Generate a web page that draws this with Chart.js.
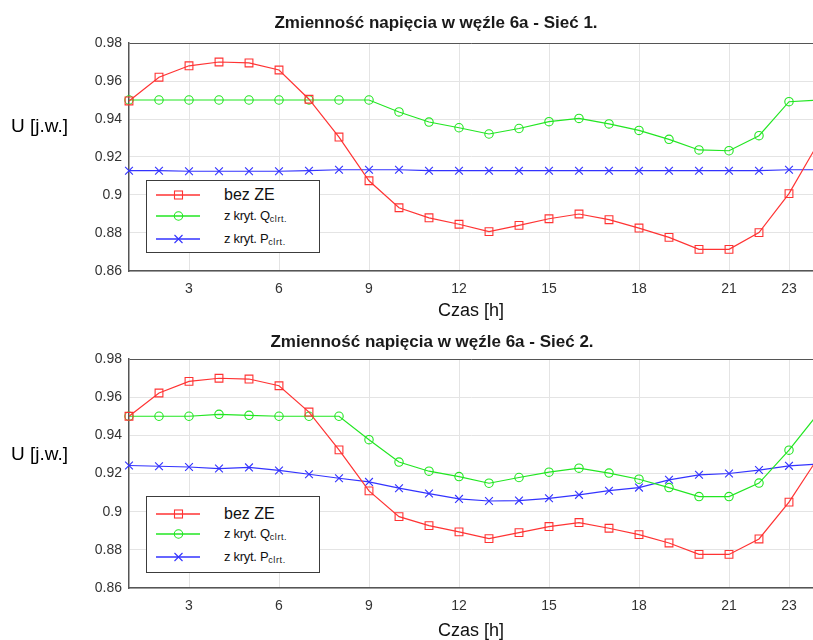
<!DOCTYPE html>
<html>
<head>
<meta charset="utf-8">
<script src="https://cdn.jsdelivr.net/npm/chart.js@4.4.1/dist/chart.umd.min.js"></script>
<style>
  html, body { margin: 0; padding: 0; background: #fff; }
  body { width: 813px; height: 640px; overflow: hidden; position: relative;
         font-family: Arial, "Liberation Sans", sans-serif; color: #000; }
  .panel { position: absolute; left: 0; width: 813px; height: 320px; }
  .panel canvas { position: absolute; left: 0; top: 0; }
  .title { position: absolute; left: 0; font-weight: bold; font-size: 17px; line-height: 17px;
           text-align: center; color: #1a1a1a; white-space: nowrap; }
  .ylab { position: absolute; left: 11px; font-size: 19px; line-height: 19px; color: #000; white-space: nowrap; }
  .legend { position: absolute; left: 146px; width: 172px; border: 1px solid #3c3c3c;
            background: #fff; box-sizing: content-box; }
  .legend .row { position: absolute; left: 0; height: 16px; width: 172px; }
  .legend svg { position: absolute; left: 0; top: 0; }
  .legend .lbl { position: absolute; left: 77px; top: 0; line-height: 16px; white-space: nowrap; color: #111; }
  .legend .big { font-size: 16px; }
  .legend .small { font-size: 13px; letter-spacing: -0.3px; }
  .legend sub { font-size: 9px; letter-spacing: 0.6px; vertical-align: -2px; line-height: 0; }
</style>
</head>
<body>
<div class="panel" id="p1" style="top:0px">
  <canvas id="c1" width="813" height="320"></canvas>
</div>
<div class="panel" id="p2" style="top:320px">
  <canvas id="c2" width="813" height="320"></canvas>
</div>

<script>
// ---------------- DATA ----------------
const hours = [1,2,3,4,5,6,7,8,9,10,11,12,13,14,15,16,17,18,19,20,21,22,23,24];
const xTickValues = [3,6,9,12,15,18,21,23];
const yTickValues = [0.86,0.88,0.90,0.92,0.94,0.96,0.98];
const yTickLabels = ['0.86','0.88','0.9','0.92','0.94','0.96','0.98'];

const titles = ['Zmienność napięcia w węźle 6a - Sieć 1.', 'Zmienność napięcia w węźle 6a - Sieć 2.'];
const xAxisTitle = 'Czas [h]';
const yAxisTitle = 'U [j.w.]';
const seriesNames = ['bez ZE', 'z kryt. Q', 'z kryt. P'];
const seriesSubs = ['', 'clrt.', 'clrt.'];

// Sieć 1
const s1BezZE = [0.9495,0.962,0.968,0.970,0.9695,0.9658,0.9504,0.9305,0.9075,0.8933,0.888,0.8846,
                 0.8807,0.884,0.8875,0.890,0.887,0.8826,0.8777,0.8714,0.8714,0.8802,0.9007,0.928];
const s1Q     = [0.950,0.950,0.950,0.950,0.950,0.950,0.950,0.950,0.950,0.9437,0.9384,0.9354,
                 0.9321,0.935,0.9386,0.9403,0.9374,0.934,0.9293,0.9237,0.9233,0.9312,0.9491,0.950];
const s1P     = [0.9128,0.9128,0.9125,0.9125,0.9125,0.9125,0.9128,0.9133,0.9133,0.9133,0.9128,0.9128,
                 0.9128,0.9128,0.9128,0.9128,0.9128,0.9128,0.9128,0.9128,0.9128,0.9128,0.9133,0.9133];

// Sieć 2
const s2BezZE = [0.950,0.9622,0.9683,0.9699,0.9695,0.966,0.9522,0.9324,0.9109,0.8974,0.8927,0.8894,
                 0.8859,0.889,0.8922,0.8943,0.8913,0.888,0.8836,0.8776,0.8776,0.8857,0.905,0.929];
const s2Q     = [0.950,0.950,0.950,0.951,0.9505,0.950,0.950,0.950,0.9377,0.926,0.9212,0.9184,
                 0.9149,0.9179,0.9207,0.9228,0.9202,0.917,0.9126,0.9079,0.9079,0.915,0.9322,0.952];
const s2P     = [0.9242,0.9238,0.9234,0.9226,0.9232,0.9216,0.9196,0.9175,0.9156,0.9123,0.9095,0.9067,
                 0.9056,0.9058,0.907,0.9088,0.911,0.9126,0.9167,0.9193,0.920,0.9218,0.924,0.925];

// ---------------- STYLE ----------------
const colors = ['#ff3333', '#22e622', '#3333ff'];
const pointStyles = ['rect', 'circle', 'crossRot'];
const pointRadii = [5.5, 4.2, 5.5];

Chart.defaults.font.family = 'Arial, "Liberation Sans", sans-serif';

function makeDatasets(series) {
  return series.map((vals, i) => ({
    label: seriesNames[i] + seriesSubs[i],
    data: hours.map((h, k) => ({ x: h, y: vals[k] })),
    borderColor: colors[i],
    backgroundColor: colors[i],
    borderWidth: 1.2,
    pointStyle: pointStyles[i],
    pointRadius: pointRadii[i],
    pointHoverRadius: pointRadii[i],
    pointBorderWidth: 1.1,
    pointBorderColor: colors[i],
    pointBackgroundColor: 'rgba(0,0,0,0)',
    tension: 0,
    clip: false
  }));
}

function makeChart(canvasId, series, padTop, xScaleHeight) {
  const ctx = document.getElementById(canvasId);
  return new Chart(ctx, {
    type: 'line',
    data: { datasets: makeDatasets(series) },
    options: {
      responsive: false,
      animation: false,
      devicePixelRatio: 1,
      layout: { autoPadding: false, padding: { top: padTop, left: 0, right: 0, bottom: 0 } },
      plugins: { legend: { display: false }, title: { display: false }, tooltip: { enabled: false } },
      scales: {
        x: {
          type: 'linear',
          min: 1,
          max: 23.8,
          afterBuildTicks: (scale) => { scale.ticks = xTickValues.map(v => ({ value: v })); },
          afterFit: (scale) => { scale.height = xScaleHeight; },
          ticks: { autoSkip: false, maxRotation: 0, padding: 10, color: '#333',
                   font: { size: 14 }, callback: (v) => String(v) },
          grid: { color: '#e4e4e4', lineWidth: 1, drawTicks: false },
          border: { color: '#555', width: 1.5 },
          title: { display: true, text: xAxisTitle, color: '#111',
                   font: { size: 18, lineHeight: 1 }, padding: { top: 0, bottom: 0 } }
        },
        y: {
          min: 0.86,
          max: 0.98,
          afterBuildTicks: (scale) => { scale.ticks = yTickValues.map(v => ({ value: v })); },
          afterFit: (scale) => { scale.width = 129; },
          ticks: { padding: 7, color: '#333', font: { size: 14 },
                   callback: (v) => {
                     const idx = yTickValues.findIndex(t => Math.abs(t - v) < 1e-6);
                     return idx >= 0 ? yTickLabels[idx] : '';
                   } },
          grid: { drawTicks: false, lineWidth: 1,
                  color: (c) => (c.tick && Math.abs(c.tick.value - 0.98) < 1e-6) ? '#555' : '#e4e4e4' },
          border: { color: '#555', width: 1.5 }
        }
      }
    }
  });
}

function addTexts(panelId, titleText, titleTop, titleCenter, ylabTop, legendTop, legendHeight, rowCenters) {
  const p = document.getElementById(panelId);
  const t = document.createElement('div');
  t.className = 'title';
  t.style.top = titleTop + 'px';
  t.style.width = (titleCenter * 2) + 'px';
  t.textContent = titleText;
  p.appendChild(t);

  const yl = document.createElement('div');
  yl.className = 'ylab';
  yl.style.top = ylabTop + 'px';
  yl.textContent = yAxisTitle;
  p.appendChild(yl);

  const lg = document.createElement('div');
  lg.className = 'legend';
  lg.style.top = legendTop + 'px';
  lg.style.height = legendHeight + 'px';
  seriesNames.forEach((name, i) => {
    const row = document.createElement('div');
    row.className = 'row';
    row.style.top = (rowCenters[i] - 8) + 'px';
    const c = colors[i];
    let marker = '';
    if (pointStyles[i] === 'rect') marker = `<rect x="27.5" y="4" width="8" height="8" fill="none" stroke="${c}" stroke-width="1.1"/>`;
    if (pointStyles[i] === 'circle') marker = `<circle cx="31.5" cy="8" r="4.2" fill="none" stroke="${c}" stroke-width="1.1"/>`;
    if (pointStyles[i] === 'crossRot') marker = `<path d="M27.5 4 L35.5 12 M35.5 4 L27.5 12" stroke="${c}" stroke-width="1.1"/>`;
    row.innerHTML = `<svg width="60" height="16"><line x1="9" y1="8" x2="53" y2="8" stroke="${c}" stroke-width="1.3"/>${marker}</svg>`;
    const lbl = document.createElement('span');
    lbl.className = 'lbl ' + (seriesSubs[i] ? 'small' : 'big');
    lbl.appendChild(document.createTextNode(name));
    if (seriesSubs[i]) {
      const s = document.createElement('sub');
      s.textContent = seriesSubs[i];
      lbl.appendChild(s);
    }
    row.appendChild(lbl);
    lg.appendChild(row);
  });
  p.appendChild(lg);
}

makeChart('c1', [s1BezZE, s1Q, s1P], 43, 49);
makeChart('c2', [s2BezZE, s2Q, s2P], 39, 52);

addTexts('p1', titles[0], 14, 436, 116, 180, 71, [14, 35, 58]);
addTexts('p2', titles[1], 13, 432, 124, 176, 75, [17, 37, 60]);
</script>
</body>
</html>
